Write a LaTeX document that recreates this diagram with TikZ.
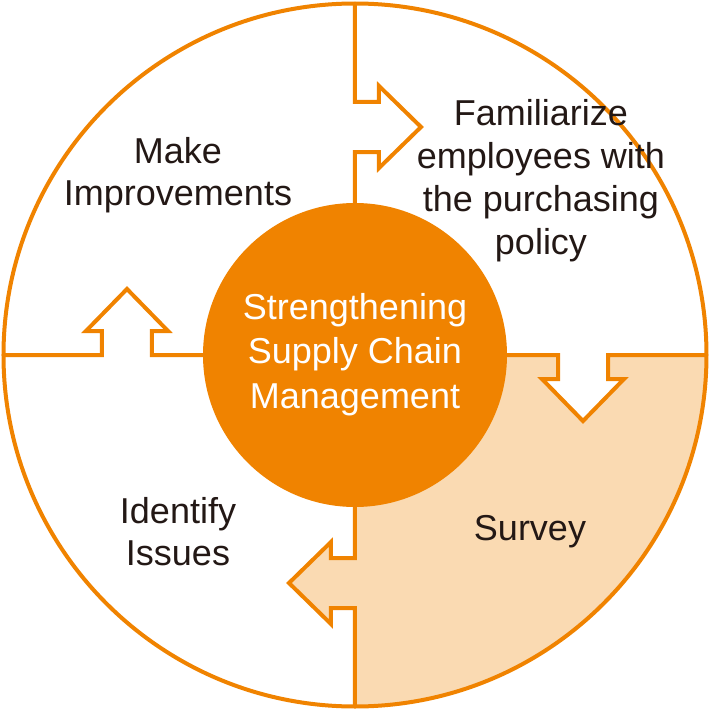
\documentclass[tikz,border=0pt]{standalone}
\usepackage{fontspec}
\setmainfont{Liberation Sans}
\definecolor{scorange}{RGB}{240,131,0}
\definecolor{scpeach}{RGB}{250,218,178}
\definecolor{sctext}{RGB}{35,24,21}
\begin{document}
\begin{tikzpicture}[x=1pt,y=1pt,
  divline/.style={draw=scorange,line width=4pt},
  lbl/.style={font=\fontsize{36}{43}\selectfont,text=sctext,align=center,anchor=base,inner sep=0pt},
  hub/.style={font=\fontsize{36}{44.5}\selectfont,text=white,align=center,anchor=base,inner sep=0pt}]
\useasboundingbox (-355,-355) rectangle (355,355);
\def\R{351.5}
% peach quadrant
\fill[scpeach] (0,0) -- (203,0) -- (203,-24) -- (187,-24) -- (228,-66) -- (269,-24) -- (253,-24) -- (253,0) -- (\R,0)
  arc[start angle=0,end angle=-90,radius=\R] -- (0,-253) -- (-24,-253) -- (-24,-269) -- (-66,-228) -- (-24,-187) -- (-24,-203) -- (0,-203) -- cycle;
% dividing lines with arrows
\foreach \r in {0,-90,-180,-270}{
  \draw[divline,rotate=\r] (0,\R) -- (0,253) -- (24,253) -- (24,269) -- (66,228) -- (24,187) -- (24,203) -- (0,203) -- (0,140);
}
% outer circle
\draw[divline] (0,0) circle[radius=\R];
% hub
\node[circle,fill=scorange,minimum size=304pt,inner sep=0pt] (core) at (0,0) {};
\node[hub] (hubtext) at (0,-53) {Strengthening\\Supply Chain\\Management};
\node[lbl] (fam) at (186,101) {Familiarize\\employees with\\the purchasing\\policy};
\node[lbl,font=\fontsize{36}{42}\selectfont] (make) at (-177,150) {Make\\Improvements};
\node[lbl,font=\fontsize{36}{42}\selectfont] (ident) at (-177,-210) {Identify\\Issues};
\node[lbl] (survey) at (175,-185) {Survey};
\end{tikzpicture}
\end{document}
